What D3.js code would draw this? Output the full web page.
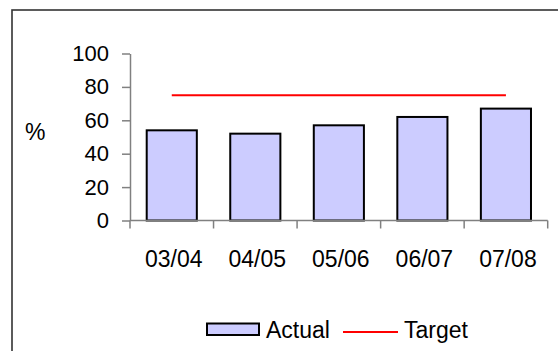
<!DOCTYPE html>
<html>
<head>
<meta charset="utf-8">
<script src="https://cdn.jsdelivr.net/npm/d3@7"></script>
<style>
    body { margin: 0; background: #fff; }
    text { font-family: "Liberation Sans", Arial, sans-serif; fill: #000; }
</style>
</head>
<body>
<div id="chart"></div>
<script>
// Chart values
const years = ["03/04", "04/05", "05/06", "06/07", "07/08"]
const actual = [54, 52, 57, 62, 67]
const target = [75, 75, 75, 75, 75]
const yTicks = [0, 20, 40, 60, 80, 100]

function plotChart() {
    const dimensions = {
        width: 558,
        height: 351,
        margins: { top: 53.5, left: 130, right: 10.3, bottom: 130.5 }
    }
    dimensions.boundedWidth = dimensions.width - dimensions.margins.left - dimensions.margins.right
    dimensions.boundedHeight = dimensions.height - dimensions.margins.top - dimensions.margins.bottom

    const wrapper = d3.select("#chart").append("svg")
        .attr("width", dimensions.width)
        .attr("height", dimensions.height)

    // Outer frame (right and bottom edges fall outside the picture)
    wrapper.append("rect")
        .attr("x", 12)
        .attr("y", 10)
        .attr("width", 600)
        .attr("height", 400)
        .attr("fill", "none")
        .attr("stroke", "#333")
        .attr("stroke-width", 1.6)

    const bounds = wrapper.append("g")
        .attr("transform", `translate(${dimensions.margins.left}, ${dimensions.margins.top})`)

    // Scales
    const xScale = d3.scaleBand()
        .domain(years)
        .range([0, dimensions.boundedWidth])
        .paddingInner(0.4)
        .paddingOuter(0.2)

    const yScale = d3.scaleLinear()
        .domain([0, 100])
        .range([dimensions.boundedHeight, 0])

    // Bars
    bounds.selectAll(".bar")
        .data(years)
        .enter().append("rect")
        .attr("class", "bar")
        .attr("x", d => xScale(d))
        .attr("width", xScale.bandwidth())
        .attr("y", (d, i) => yScale(actual[i]))
        .attr("height", (d, i) => yScale(0) - yScale(actual[i]))
        .attr("fill", "#ccccff")
        .attr("stroke", "#000")
        .attr("stroke-width", 2)

    // Target line
    const line = d3.line()
        .x((d, i) => xScale(years[i]) + xScale.bandwidth() / 2)
        .y(d => yScale(d))

    bounds.append("path")
        .datum(target)
        .attr("d", line)
        .attr("fill", "none")
        .attr("stroke", "#ff0000")
        .attr("stroke-width", 2)

    // Y axis
    const yAxisGenerator = d3.axisLeft(yScale)
        .tickValues(yTicks)
        .tickSize(8)
        .tickPadding(13)
        .tickSizeOuter(0)

    const yAxis = bounds.append("g")
        .call(yAxisGenerator)
    yAxis.selectAll("path, line").attr("stroke", "#808080").attr("stroke-width", 1.5)
    yAxis.selectAll("text")
        .attr("font-size", "22px")
        .attr("font-family", "Liberation Sans, Arial, sans-serif")
        .attr("dy", "0.32em")

    // X axis: ticks at category boundaries, labels at centres
    const step = xScale.step()
    const boundaries = d3.range(years.length + 1).map(i => i * step)
    const xAxis = bounds.append("g")
        .attr("transform", `translate(0, ${dimensions.boundedHeight})`)

    xAxis.append("line")
        .attr("x1", 0)
        .attr("x2", dimensions.boundedWidth)
        .attr("stroke", "#808080")
        .attr("stroke-width", 1.5)

    xAxis.selectAll(".tick")
        .data(boundaries)
        .enter().append("line")
        .attr("class", "tick")
        .attr("x1", d => d)
        .attr("x2", d => d)
        .attr("y1", 0)
        .attr("y2", 8)
        .attr("stroke", "#808080")
        .attr("stroke-width", 1.5)

    xAxis.selectAll(".xlabel")
        .data(years)
        .enter().append("text")
        .attr("class", "xlabel")
        .attr("x", d => xScale(d) + xScale.bandwidth() / 2 + 2)
        .attr("y", 46)
        .attr("text-anchor", "middle")
        .attr("font-size", "23px")
        .text(d => d)

    // y axis label
    wrapper.append("text")
        .attr("x", 25)
        .attr("y", 140)
        .attr("font-size", "23px")
        .text("%")

    // Legend
    const legend = wrapper.append("g")
    legend.append("rect")
        .attr("x", 207)
        .attr("y", 323.5)
        .attr("width", 52)
        .attr("height", 11.5)
        .attr("fill", "#ccccff")
        .attr("stroke", "#000")
        .attr("stroke-width", 2)
    legend.append("text")
        .attr("x", 266)
        .attr("y", 337.5)
        .attr("font-size", "23px")
        .text("Actual")
    legend.append("line")
        .attr("x1", 343)
        .attr("x2", 398)
        .attr("y1", 332)
        .attr("y2", 332)
        .attr("stroke", "#ff0000")
        .attr("stroke-width", 2)
    legend.append("text")
        .attr("x", 404)
        .attr("y", 337.5)
        .attr("font-size", "23px")
        .text("Target")
}

plotChart()
</script>
</body>
</html>
